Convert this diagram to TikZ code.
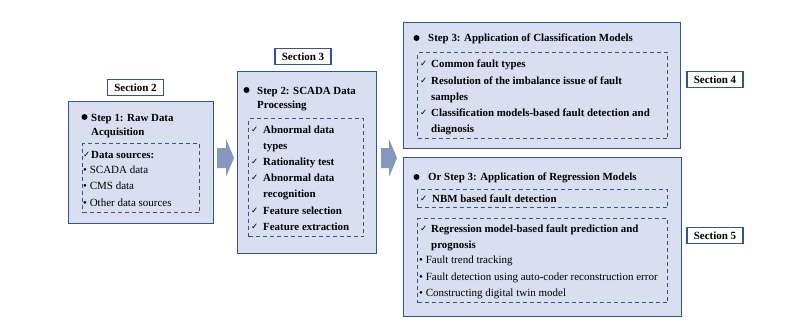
\documentclass[tikz,border=0pt]{standalone}
\usepackage{fontspec}
\setmainfont{Liberation Serif}
\newfontfamily\symf{DejaVu Sans}
\definecolor{boxfill}{RGB}{217,223,240}
\definecolor{boxline}{RGB}{47,85,151}
\definecolor{arrowfill}{RGB}{132,151,189}
\newcommand{\ckm}{{\symf\fontsize{8.5}{8.5}\selectfont\raisebox{0.6pt}{✓}}}
\tikzset{
  panel/.style={draw=boxline, line width=1.4pt, fill=boxfill, anchor=north west, inner sep=0pt},
  dbox/.style={draw=boxline, line width=1.3pt, dash pattern=on 4pt off 3pt, anchor=north west, inner sep=0pt},
  seclabel/.style={draw=boxline, line width=1.5pt, fill=white, inner sep=0pt, minimum width=56pt, minimum height=16pt, font=\bfseries\fontsize{11}{12}\selectfont},
  txt/.style={anchor=base west, inner sep=0pt, font=\fontsize{11}{13}\selectfont},
  btxt/.style={anchor=base west, inner sep=0pt, font=\bfseries\fontsize{10.9}{13}\selectfont},
  ck/.style={anchor=base west, inner sep=0pt},
  dot/.style={circle, fill=black, inner sep=0pt, minimum size=6pt},
  blockarrow/.style={fill=arrowfill}
}
\begin{document}
\begin{tikzpicture}[x=1pt,y=-1pt]
\useasboundingbox (0,0) rectangle (785,330);
% panels
\node[panel, minimum width=145pt, minimum height=122pt] (p1) at (68,101) {};
\node[panel, minimum width=139pt, minimum height=182pt] (p2) at (237,71) {};
\node[panel, minimum width=277pt, minimum height=126pt] (p3) at (403,22) {};
\node[panel, minimum width=278pt, minimum height=159pt] (p4) at (403,157) {};
% dashed boxes
\node[dbox, minimum width=117pt, minimum height=69pt] (d1) at (82,143) {};
\node[dbox, minimum width=115pt, minimum height=118pt] (d2) at (248,118) {};
\node[dbox, minimum width=250pt, minimum height=86pt] (d3) at (417,52) {};
\node[dbox, minimum width=250pt, minimum height=18pt] (d4) at (417,189) {};
\node[dbox, minimum width=250pt, minimum height=84pt] (d5) at (417,218) {};
% section labels
\node[seclabel] (s2) at (135.5,87.5) {Section 2};
\node[seclabel] (s3) at (303,56.5) {Section 3};
\node[seclabel] (s4) at (715,79.5) {Section 4};
\node[seclabel] (s5) at (715,235.5) {Section 5};
% block arrows
\fill[blockarrow] (217,148) -- (226,148) -- (226,139) -- (234,158) -- (226,177) -- (226,168) -- (217,168) -- cycle;
\fill[blockarrow] (381,148) -- (389,148) -- (389,139) -- (397,158) -- (389,177) -- (389,168) -- (381,168) -- cycle;
% panel 1
\node[dot] (b1) at (84.5,117) {};
\node[btxt] (t1a) at (91,121) {Step 1: Raw Data};
\node[btxt] (t1b) at (91,135) {Acquisition};
\node[ck] (c1a) at (83,158) {\ckm};
\node[btxt] (t1c) at (91,158) {Data sources:};
\node[txt] (t1d) at (83,173) {• SCADA data};
\node[txt] (t1e) at (83,189) {• CMS data};
\node[txt] (t1f) at (83,206) {• Other data sources};
% panel 2
\node[dot] (b2) at (246.5,90) {};
\node[btxt] (t2a) at (257,94) {Step 2: SCADA Data};
\node[btxt] (t2b) at (257,108) {Processing};
\node[ck] (c2a) at (251,133) {\ckm};
\node[btxt] (t2c) at (263,133) {Abnormal data};
\node[btxt] (t2d) at (263,149) {types};
\node[ck] (c2b) at (251,165) {\ckm};
\node[btxt] (t2e) at (263,165) {Rationality test};
\node[ck] (c2c) at (251,181) {\ckm};
\node[btxt] (t2f) at (263,181) {Abnormal data};
\node[btxt] (t2g) at (263,197) {recognition};
\node[ck] (c2d) at (251,214) {\ckm};
\node[btxt] (t2h) at (263,214) {Feature selection};
\node[ck] (c2e) at (251,230) {\ckm};
\node[btxt] (t2i) at (263,230) {Feature extraction};
% panel 3
\node[dot] (b3) at (416.5,38) {};
\node[btxt] (t3a) at (428,41) {Step 3: Application of Classification Models};
\node[ck] (c3a) at (420,67) {\ckm};
\node[btxt] (t3b) at (431,67) {Common fault types};
\node[ck] (c3b) at (420,84) {\ckm};
\node[btxt] (t3c) at (431,84) {Resolution of the imbalance issue of fault};
\node[btxt] (t3d) at (431,100) {samples};
\node[ck] (c3c) at (420,116) {\ckm};
\node[btxt] (t3e) at (431,116) {Classification models-based fault detection and};
\node[btxt] (t3f) at (431,132) {diagnosis};
% panel 4
\node[dot] (b4) at (416.5,177) {};
\node[btxt] (t4a) at (428,180) {Or Step 3: Application of Regression Models};
\node[ck] (c4a) at (420,202) {\ckm};
\node[btxt] (t4b) at (432,202) {NBM based fault detection};
\node[ck] (c4b) at (420,232) {\ckm};
\node[btxt] (t4c) at (431,232) {Regression model-based fault prediction and};
\node[btxt] (t4d) at (431,248) {prognosis};
\node[txt] (t4e) at (419,263) {• Fault trend tracking};
\node[txt] (t4f) at (419,280) {• Fault detection using auto-coder reconstruction error};
\node[txt] (t4g) at (419,296) {• Constructing digital twin model};
\end{tikzpicture}
\end{document}
